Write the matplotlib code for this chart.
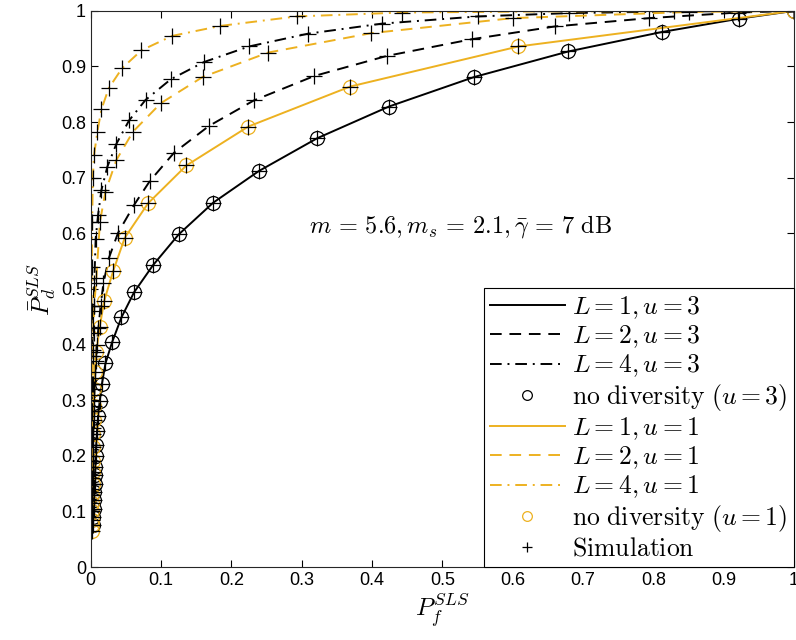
import matplotlib
matplotlib.use("Agg")
import matplotlib.pyplot as plt

plt.rcParams["mathtext.fontset"] = "cm"
plt.rcParams["font.family"] = ["Liberation Sans", "DejaVu Sans"]

ORANGE = "#EDB120"

# L = 1, u = 3 (theory, also "no diversity" circles and simulation)
l1u3_x = [0.003, 0.0035, 0.004, 0.0045, 0.005, 0.0055, 0.006, 0.0065, 0.007, 0.0078,
          0.009, 0.0104, 0.0128, 0.016, 0.0209, 0.0303, 0.0437, 0.0616, 0.0887, 0.125,
          0.174, 0.239, 0.322, 0.424, 0.545, 0.679, 0.812, 0.922, 1.0]
l1u3_y = [0.075, 0.09, 0.105, 0.12, 0.135, 0.15, 0.165, 0.18, 0.20, 0.22,
          0.245, 0.272, 0.299, 0.330, 0.366, 0.404, 0.449, 0.494, 0.543, 0.598,
          0.655, 0.712, 0.771, 0.828, 0.881, 0.927, 0.962, 0.986, 1.0]

# L = 1, u = 1
l1u1_x = [0.0015, 0.0015, 0.0015, 0.002, 0.002, 0.002, 0.0025, 0.0025, 0.003, 0.003,
          0.0035, 0.004, 0.0045, 0.005, 0.0057, 0.008, 0.0128, 0.019, 0.0318, 0.0484,
          0.0815, 0.136, 0.224, 0.369, 0.608, 1.0]
l1u1_y = [0.065, 0.075, 0.085, 0.10, 0.115, 0.13, 0.15, 0.17, 0.19, 0.215,
          0.24, 0.265, 0.29, 0.32, 0.351, 0.387, 0.432, 0.478, 0.532, 0.592,
          0.654, 0.722, 0.792, 0.864, 0.936, 1.0]

# L = 2, u = 3
l2u3_x = [0.001, 0.0015, 0.002, 0.0025, 0.003, 0.0035, 0.004, 0.005, 0.006, 0.007,
          0.0085, 0.011, 0.014, 0.018, 0.0256, 0.0389, 0.0616, 0.084, 0.1185, 0.168,
          0.232, 0.318, 0.421, 0.5415, 0.66, 0.794, 0.92, 1.0]
l2u3_y = [0.10, 0.13, 0.16, 0.19, 0.22, 0.25, 0.28, 0.31, 0.34, 0.37,
          0.40, 0.43, 0.47, 0.51, 0.555, 0.601, 0.651, 0.694, 0.745, 0.793,
          0.839, 0.883, 0.919, 0.949, 0.972, 0.987, 0.997, 1.0]

# L = 4, u = 3
l4u3_x = [0.0005, 0.0008, 0.001, 0.0012, 0.0015, 0.002, 0.0025, 0.003, 0.004, 0.005,
          0.007, 0.0104, 0.0152, 0.0237, 0.0365, 0.0545, 0.078, 0.1138, 0.161, 0.225,
          0.309, 0.4135, 0.55, 0.68, 0.83, 1.0]
l4u3_y = [0.12, 0.16, 0.20, 0.24, 0.28, 0.33, 0.39, 0.43, 0.47, 0.51,
          0.59, 0.633, 0.678, 0.72, 0.761, 0.803, 0.84, 0.877, 0.908, 0.936,
          0.959, 0.977, 0.99, 0.996, 0.999, 1.0]

# L = 2, u = 1
l2u1_x = [0.0005, 0.0008, 0.001, 0.0015, 0.002, 0.0025, 0.003, 0.004, 0.005, 0.008,
          0.013, 0.0209, 0.0365, 0.0602, 0.0996, 0.159, 0.252, 0.399, 0.60, 0.85, 1.0]
l2u1_y = [0.10, 0.14, 0.18, 0.23, 0.28, 0.33, 0.38, 0.42, 0.47, 0.52,
          0.62, 0.675, 0.732, 0.783, 0.834, 0.881, 0.925, 0.96, 0.987, 0.998, 1.0]

# L = 4, u = 1
l4u1_x = [0.0003, 0.0005, 0.0007, 0.001, 0.0012, 0.0015, 0.002, 0.003, 0.0047, 0.0095,
          0.0152, 0.0256, 0.0446, 0.072, 0.1157, 0.1845, 0.2926, 0.442, 0.64, 1.0]
l4u1_y = [0.15, 0.22, 0.30, 0.38, 0.46, 0.54, 0.62, 0.70, 0.741, 0.783,
          0.823, 0.861, 0.897, 0.929, 0.955, 0.973, 0.99, 0.997, 0.999, 1.0]

fig = plt.figure(figsize=(7.96, 6.40), dpi=100)
ax = fig.add_axes([0.114, 0.114, 0.8835, 0.869])

lw = 1.4
dash = (6, 4)
dashdot = (6, 3, 1, 3)

ax.plot(l1u3_x, l1u3_y, color="k", lw=lw, label=r"$L=1, u=3$")
ax.plot(l2u3_x, l2u3_y, color="k", lw=lw, dashes=dash, label=r"$L=2, u=3$")
ax.plot(l4u3_x, l4u3_y, color="k", lw=lw, dashes=dashdot, label=r"$L=4, u=3$")
ax.plot(l1u3_x, l1u3_y, ls="none", marker="o", ms=10, mfc="none", mec="k", mew=0.9,
        label=r"$\mathrm{no\ diversity}\ (u=3)$")
ax.plot(l1u1_x, l1u1_y, color=ORANGE, lw=lw, label=r"$L=1, u=1$")
ax.plot(l2u1_x, l2u1_y, color=ORANGE, lw=lw, dashes=dash, label=r"$L=2, u=1$")
ax.plot(l4u1_x, l4u1_y, color=ORANGE, lw=lw, dashes=dashdot, label=r"$L=4, u=1$")
ax.plot(l1u1_x, l1u1_y, ls="none", marker="o", ms=10, mfc="none", mec=ORANGE, mew=0.9,
        label=r"$\mathrm{no\ diversity}\ (u=1)$")

sim_sets = [(l1u3_x, l1u3_y), (l2u3_x, l2u3_y), (l4u3_x, l4u3_y),
            (l1u1_x, l1u1_y), (l2u1_x, l2u1_y), (l4u1_x, l4u1_y)]
for i, (sx, sy) in enumerate(sim_sets):
    ax.plot(sx, sy, ls="none", marker="+", ms=11, mec="k", mew=0.9,
            label=r"$\mathrm{Simulation}$" if i == 0 else None)

ax.text(0.526, 0.613, r"$m\,=\,5.6, m_s\,=\,2.1, \bar{\gamma}\,=\,7\ \mathrm{dB}$",
        fontsize=17.5, ha="center", va="center")

ax.set_xlim(0, 1)
ax.set_ylim(0, 1)
ax.set_xticks([i / 10 for i in range(11)])
ax.set_yticks([i / 10 for i in range(11)])
ax.set_xticklabels(["0", "0.1", "0.2", "0.3", "0.4", "0.5", "0.6", "0.7", "0.8", "0.9", "1"])
ax.set_yticklabels(["0", "0.1", "0.2", "0.3", "0.4", "0.5", "0.6", "0.7", "0.8", "0.9", "1"])
ax.tick_params(direction="in", top=True, right=True, labelsize=13, length=5, width=0.8)
for s in ax.spines.values():
    s.set_linewidth(0.8)
    s.set_color("#262626")

ax.set_xlabel(r"$P_f^{SLS}$", fontsize=18, labelpad=2)
ax.set_ylabel(r"$\bar{P}_d^{SLS}$", fontsize=18, labelpad=2)

leg = ax.legend(loc="lower right", prop={"size": 18.5}, handlelength=2.9, handletextpad=0.3,
                labelspacing=0.1, borderaxespad=0, borderpad=0.25, fancybox=False,
                framealpha=1, edgecolor="k", markerscale=0.7)
leg.get_frame().set_linewidth(0.8)

fig.savefig("out.png", dpi=100)
